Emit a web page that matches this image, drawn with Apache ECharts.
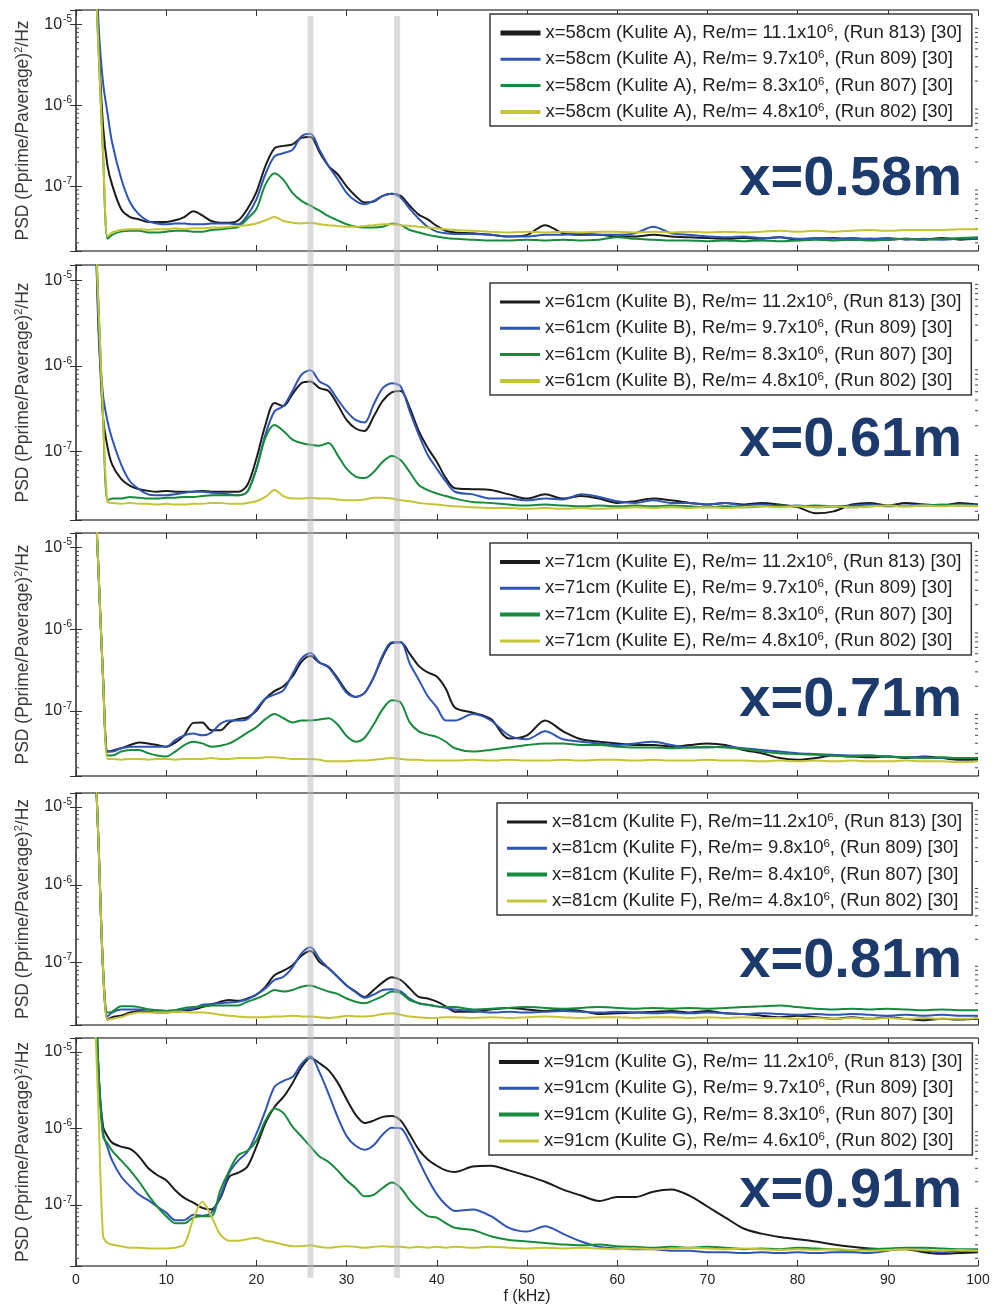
<!DOCTYPE html>
<html>
<head>
<meta charset="utf-8">
<script src="https://cdn.jsdelivr.net/npm/echarts@6/dist/echarts.min.js"></script>
<style>
  html, body { margin: 0; padding: 0; background: #ffffff; }
  #chart { width: 995px; height: 1306px; }
</style>
</head>
<body>
<div id="chart"></div>
<script>
// Frequency grid (kHz) shared by every spectrum
const FREQ_KHZ = [2, 2.5, 3, 3.5, 4, 5, 6, 7, 8, 9, 10, 11, 12, 13, 14, 15, 16, 17, 18, 19, 20, 21, 22, 23, 24, 25, 26, 27, 28, 29, 30, 31, 32, 33, 34, 35, 36, 37, 38, 39, 40, 41, 42, 44, 46, 48, 50, 52, 54, 56, 58, 60, 62, 64, 66, 68, 70, 72, 74, 76, 78, 80, 82, 84, 86, 88, 90, 92, 94, 96, 98, 100];

// PSD values in units of 1e-8 (Pprime/Paverage)^2/Hz
// x = 0.58 m (Kulite A)
const PSD_58_RUN813 = [16000, 631, 55, 17.8, 10.5, 5.25, 4.17, 3.89, 3.63, 3.63, 3.63, 3.8, 4.17, 4.9, 4.37, 3.72, 3.55, 3.55, 3.8, 5.25, 8.5, 17.8, 29.5, 31.6, 33, 39.8, 40.7, 26.3, 17.8, 14.1, 10, 7.6, 6.3, 6.5, 7.6, 8.1, 7.6, 5.75, 4.47, 3.89, 3.24, 2.82, 2.69, 2.63, 2.51, 2.4, 2.51, 3.31, 2.63, 2.51, 2.51, 2.4, 2.4, 2.51, 2.4, 2.34, 2.29, 2.24, 2.29, 2.24, 2.34, 2.19, 2.24, 2.29, 2.19, 2.24, 2.19, 2.24, 2.19, 2.29, 2.19, 2.24];
const PSD_58_RUN809 = [31600, 1000, 190, 79, 35, 12.6, 6.3, 4.47, 3.72, 3.47, 3.39, 3.47, 3.47, 3.39, 3.39, 3.47, 3.47, 3.47, 3.39, 4.37, 6.9, 14.1, 23.4, 25.7, 28.2, 41.7, 44.7, 28.2, 17.8, 12.3, 8.3, 6.6, 6.0, 6.6, 7.6, 8.1, 7.2, 5.25, 3.98, 3.16, 2.75, 2.63, 2.57, 2.57, 2.51, 2.4, 2.4, 2.51, 2.51, 2.63, 2.51, 2.51, 2.63, 3.16, 2.63, 2.51, 2.4, 2.34, 2.4, 2.29, 2.34, 2.24, 2.29, 2.24, 2.29, 2.24, 2.29, 2.19, 2.24, 2.19, 2.24, 2.24];
const PSD_58_RUN807 = [10000, 500, 25, 2.24, 2.51, 2.75, 2.82, 2.82, 2.69, 2.69, 2.75, 2.82, 2.82, 2.75, 2.75, 2.88, 2.95, 3.02, 3.16, 3.98, 5.25, 10.5, 14.5, 12, 8.3, 6.6, 5.75, 5.0, 4.27, 3.8, 3.39, 3.16, 3.09, 3.09, 3.16, 3.47, 3.31, 2.88, 2.69, 2.51, 2.4, 2.29, 2.24, 2.19, 2.14, 2.14, 2.19, 2.14, 2.19, 2.14, 2.19, 2.34, 2.24, 2.19, 2.14, 2.14, 2.09, 2.14, 2.09, 2.14, 2.09, 2.14, 2.19, 2.14, 2.19, 2.14, 2.19, 2.24, 2.19, 2.24, 2.29, 2.34];
const PSD_58_RUN802 = [10000, 480, 26, 2.4, 2.69, 2.88, 2.95, 2.95, 2.88, 2.95, 2.95, 3.02, 2.95, 3.02, 3.02, 3.09, 3.09, 3.16, 3.24, 3.31, 3.47, 3.8, 4.17, 3.72, 3.55, 3.47, 3.55, 3.39, 3.31, 3.24, 3.16, 3.16, 3.24, 3.31, 3.39, 3.39, 3.31, 3.24, 3.16, 3.09, 3.02, 2.95, 2.88, 2.82, 2.75, 2.69, 2.75, 2.69, 2.75, 2.69, 2.75, 2.75, 2.69, 2.75, 2.69, 2.75, 2.69, 2.75, 2.69, 2.75, 2.82, 2.75, 2.82, 2.75, 2.82, 2.88, 2.82, 2.88, 2.88, 2.88, 2.95, 2.95];

// x = 0.61 m (Kulite B)
const PSD_61_RUN813 = [16000, 316, 25, 11.2, 7.1, 4.8, 3.98, 3.63, 3.47, 3.39, 3.47, 3.39, 3.39, 3.39, 3.47, 3.39, 3.39, 3.39, 3.39, 4.07, 8.3, 20.4, 37, 34, 47, 63, 66, 55, 51, 35.5, 23.4, 18.6, 17.4, 25.7, 39, 49, 51, 32.4, 17.4, 11, 7.6, 4.9, 3.72, 3.63, 3.55, 3.16, 2.82, 3.16, 2.82, 3.02, 2.82, 2.51, 2.63, 2.82, 2.69, 2.51, 2.4, 2.51, 2.4, 2.51, 2.4, 2.24, 1.9, 2.0, 2.4, 2.51, 2.34, 2.51, 2.4, 2.34, 2.51, 2.4];
const PSD_61_RUN809 = [31600, 250, 45, 22.4, 14.1, 7.1, 4.47, 3.63, 3.16, 3.09, 3.09, 3.16, 3.31, 3.39, 3.39, 3.31, 3.24, 3.16, 3.09, 3.39, 6.3, 15.8, 29.5, 34, 51, 79, 89, 66, 57.5, 40.7, 29.5, 23.4, 21.9, 35.5, 55, 63, 57.5, 29.5, 15.8, 9.1, 6.3, 4.47, 3.39, 3.16, 2.82, 2.82, 2.69, 2.82, 2.75, 3.16, 2.95, 2.63, 2.51, 2.69, 2.51, 2.51, 2.4, 2.51, 2.34, 2.4, 2.29, 2.34, 2.24, 2.29, 2.34, 2.4, 2.29, 2.34, 2.4, 2.34, 2.4, 2.34];
const PSD_61_RUN807 = [10000, 500, 25, 2.69, 2.82, 2.82, 2.95, 2.88, 2.82, 2.82, 2.88, 2.88, 2.95, 2.95, 3.02, 3.09, 3.09, 3.09, 3.09, 3.39, 6.3, 14.5, 20.4, 17.4, 13.8, 12.6, 12, 11.7, 12.6, 9.1, 6.3, 5.1, 4.9, 5.75, 7.6, 8.9, 7.9, 5.75, 4.07, 3.55, 3.24, 3.02, 2.82, 2.57, 2.51, 2.4, 2.34, 2.4, 2.34, 2.29, 2.34, 2.29, 2.34, 2.29, 2.34, 2.29, 2.24, 2.29, 2.24, 2.29, 2.34, 2.29, 2.34, 2.29, 2.24, 2.29, 2.34, 2.29, 2.34, 2.4, 2.34, 2.34];
const PSD_61_RUN802 = [10000, 480, 26, 2.57, 2.51, 2.45, 2.51, 2.45, 2.45, 2.4, 2.45, 2.4, 2.4, 2.45, 2.45, 2.51, 2.51, 2.45, 2.45, 2.51, 2.63, 2.95, 3.55, 3.02, 2.82, 2.82, 2.88, 2.82, 2.82, 2.75, 2.69, 2.69, 2.75, 2.88, 2.88, 2.82, 2.69, 2.63, 2.51, 2.45, 2.4, 2.34, 2.29, 2.24, 2.19, 2.19, 2.14, 2.19, 2.14, 2.19, 2.14, 2.19, 2.24, 2.19, 2.24, 2.19, 2.24, 2.19, 2.24, 2.29, 2.24, 2.29, 2.24, 2.29, 2.24, 2.29, 2.34, 2.29, 2.34, 2.29, 2.34, 2.29];

// x = 0.71 m (Kulite E)
const PSD_71_RUN813 = [10000, 500, 25, 3.16, 3.24, 3.47, 3.8, 4.07, 3.98, 3.8, 3.63, 4.07, 5.0, 7.1, 7.2, 5.75, 5.75, 7.2, 7.9, 8.3, 10, 14.1, 17.4, 20, 26.3, 39.8, 46.8, 39, 34.7, 25.1, 17.4, 14.8, 16.6, 25.7, 45.7, 67.6, 69, 50, 35.5, 29.5, 26.3, 18.6, 11, 9.5, 7.9, 4.57, 5.0, 7.6, 5.6, 4.47, 4.17, 3.98, 3.8, 3.8, 3.63, 3.8, 3.98, 3.8, 3.31, 3.02, 2.63, 2.51, 2.63, 2.82, 2.75, 2.69, 2.75, 2.63, 2.75, 2.63, 2.51, 2.51];
const PSD_71_RUN809 = [10000, 500, 25, 3.16, 3.16, 3.47, 3.63, 3.63, 3.63, 3.63, 3.63, 4.37, 5.0, 5.25, 5.0, 5.4, 6.9, 7.6, 7.6, 7.9, 10.5, 14.1, 15.8, 17.8, 28.2, 43.7, 51, 39, 34, 24, 16.6, 14.8, 16.6, 25.7, 47.9, 69, 69, 38, 24, 15.1, 11, 7.6, 7.6, 9.1, 7.6, 5.0, 4.47, 5.6, 4.47, 4.17, 3.98, 3.8, 3.98, 4.17, 3.8, 3.55, 3.55, 3.63, 3.47, 3.31, 3.16, 3.02, 2.95, 2.88, 2.82, 2.82, 2.75, 2.69, 2.69, 2.63, 2.63, 2.63];
const PSD_71_RUN807 = [10000, 500, 25, 2.82, 2.82, 3.16, 3.31, 3.31, 3.02, 2.82, 2.75, 3.16, 3.8, 4.17, 3.98, 3.63, 3.72, 3.98, 4.57, 5.4, 6.3, 7.9, 9.1, 8.1, 7.2, 7.6, 7.6, 7.8, 8.1, 6.8, 4.9, 4.17, 4.68, 6.8, 10.5, 13.5, 12.6, 7.2, 5.6, 5.1, 4.79, 4.17, 3.47, 3.16, 3.31, 3.55, 3.8, 3.98, 3.98, 3.8, 3.8, 3.63, 3.55, 3.55, 3.47, 3.55, 3.63, 3.55, 3.39, 3.16, 3.02, 2.95, 2.88, 2.82, 2.75, 2.82, 2.75, 2.69, 2.63, 2.69, 2.63, 2.63];
const PSD_71_RUN802 = [10000, 500, 25, 2.57, 2.57, 2.51, 2.57, 2.57, 2.51, 2.57, 2.57, 2.51, 2.57, 2.57, 2.57, 2.63, 2.57, 2.57, 2.63, 2.63, 2.63, 2.69, 2.69, 2.63, 2.57, 2.57, 2.57, 2.51, 2.4, 2.4, 2.4, 2.45, 2.45, 2.51, 2.57, 2.63, 2.57, 2.51, 2.51, 2.45, 2.45, 2.45, 2.45, 2.51, 2.45, 2.51, 2.45, 2.45, 2.51, 2.45, 2.51, 2.51, 2.45, 2.51, 2.45, 2.45, 2.51, 2.45, 2.45, 2.4, 2.45, 2.4, 2.45, 2.4, 2.45, 2.4, 2.4, 2.45, 2.4, 2.4, 2.34, 2.4];

// x = 0.81 m (Kulite F)
const PSD_81_RUN813 = [10000, 340, 8.3, 1.86, 2.0, 2.09, 2.29, 2.4, 2.34, 2.29, 2.29, 2.34, 2.4, 2.51, 2.69, 2.88, 3.16, 3.31, 3.24, 3.47, 3.89, 4.9, 6.9, 7.9, 9.3, 12.3, 14.1, 10.2, 8.5, 6.6, 5.1, 4.27, 3.63, 4.47, 5.6, 6.5, 6.0, 4.68, 3.63, 3.47, 3.16, 2.75, 2.34, 2.34, 2.51, 2.63, 2.51, 2.4, 2.51, 2.4, 2.19, 2.24, 2.29, 2.34, 2.4, 2.29, 2.4, 2.24, 2.19, 2.09, 2.0, 2.09, 2.0, 1.9, 2.0, 1.9, 2.0, 1.9, 1.82, 1.9, 1.86, 1.9];
const PSD_81_RUN809 = [10000, 340, 8.3, 2.04, 2.29, 2.51, 2.51, 2.51, 2.51, 2.45, 2.4, 2.45, 2.51, 2.57, 2.88, 2.95, 3.02, 3.09, 3.16, 3.39, 3.89, 4.68, 6.0, 6.6, 8.7, 13.2, 15.8, 11.2, 8.5, 6.6, 5.1, 4.17, 3.55, 3.89, 4.47, 4.57, 4.27, 3.47, 3.02, 2.88, 2.75, 2.63, 2.51, 2.4, 2.29, 2.34, 2.29, 2.34, 2.4, 2.34, 2.29, 2.34, 2.29, 2.24, 2.29, 2.24, 2.29, 2.24, 2.19, 2.24, 2.19, 2.14, 2.19, 2.14, 2.19, 2.14, 2.09, 2.14, 2.09, 2.14, 2.09, 2.09];
const PSD_81_RUN807 = [10000, 340, 8.3, 2.29, 2.34, 2.75, 2.75, 2.69, 2.51, 2.45, 2.4, 2.45, 2.63, 2.69, 2.75, 2.82, 2.82, 2.82, 2.82, 3.16, 3.47, 3.89, 4.47, 4.27, 4.47, 4.9, 5.1, 4.68, 4.27, 3.98, 3.47, 3.16, 3.02, 3.31, 3.72, 4.27, 4.07, 3.31, 3.02, 2.88, 2.75, 2.69, 2.69, 2.51, 2.57, 2.63, 2.69, 2.63, 2.57, 2.63, 2.69, 2.63, 2.57, 2.63, 2.57, 2.63, 2.57, 2.63, 2.69, 2.75, 2.82, 2.69, 2.57, 2.51, 2.57, 2.51, 2.57, 2.51, 2.45, 2.51, 2.45, 2.45];
const PSD_81_RUN802 = [10000, 340, 8.3, 1.86, 1.9, 2.0, 2.19, 2.29, 2.29, 2.29, 2.29, 2.34, 2.34, 2.29, 2.29, 2.24, 2.14, 2.09, 2.04, 2.0, 2.0, 2.0, 2.04, 2.04, 2.09, 2.04, 2.04, 2.0, 1.95, 2.0, 2.09, 2.04, 2.04, 2.09, 2.19, 2.24, 2.14, 2.04, 2.0, 1.95, 1.95, 2.0, 2.0, 1.95, 2.0, 1.95, 2.0, 2.04, 2.0, 1.95, 2.0, 2.0, 1.95, 2.0, 2.0, 1.95, 2.0, 1.95, 2.0, 1.95, 1.95, 1.9, 1.95, 1.9, 1.95, 1.9, 1.95, 1.9, 1.95, 1.9, 1.9, 1.95];

// x = 0.91 m (Kulite G)
const PSD_91_RUN813 = [31600, 550, 105, 78, 65, 57.5, 53.7, 42.7, 30.2, 24.5, 20.9, 15.5, 12.3, 10.7, 9.1, 8.7, 12.3, 23.4, 26.3, 31.6, 57.5, 117, 190, 257, 389, 631, 832, 708, 575, 398, 240, 151, 117, 126, 141, 145, 126, 83, 52.5, 39, 32.4, 28.2, 26.9, 31.6, 32.4, 28.2, 24, 20, 15.8, 13.2, 11.2, 12.6, 12.6, 14.8, 15.8, 13.2, 9.5, 6.8, 4.9, 4.2, 3.8, 3.55, 3.31, 3.02, 2.82, 2.69, 2.63, 2.63, 2.4, 2.29, 2.34, 2.4];
const PSD_91_RUN809 = [31600, 550, 87, 56, 38, 23.4, 17.4, 13.5, 11.5, 9.5, 7.9, 6.3, 6.3, 7.4, 7.2, 7.9, 12.9, 26.3, 38, 49, 85, 170, 347, 417, 468, 692, 871, 537, 282, 141, 79, 59, 52.5, 60, 83, 102, 100, 66, 38, 21.9, 13.8, 10, 8.3, 8.7, 7.1, 5.0, 4.47, 5.25, 4.17, 3.31, 2.82, 2.69, 2.63, 2.63, 2.51, 2.51, 2.4, 2.4, 2.34, 2.4, 2.34, 2.4, 2.34, 2.4, 2.4, 2.34, 2.51, 2.69, 2.51, 2.4, 2.51, 2.51];
const PSD_91_RUN807 = [31600, 550, 78, 63, 51, 38, 28.2, 20, 13.5, 9.5, 7.1, 5.75, 5.75, 6.8, 7.1, 7.1, 15.5, 28.2, 44.7, 51, 69, 126, 182, 158, 105, 78, 57.5, 42.7, 36.3, 28.2, 20.9, 16.6, 12.9, 13.5, 16.6, 19.5, 16.6, 11.5, 8.7, 7.1, 6.8, 5.75, 5.0, 4.68, 3.89, 3.47, 3.31, 3.16, 3.02, 2.95, 3.02, 2.88, 2.82, 2.75, 2.82, 2.75, 2.82, 2.75, 2.63, 2.69, 2.63, 2.75, 2.69, 2.63, 2.51, 2.63, 2.69, 2.75, 2.75, 2.69, 2.63, 2.63];
const PSD_91_RUN802 = [6300, 158, 3.89, 3.16, 3.02, 2.88, 2.75, 2.75, 2.69, 2.69, 2.69, 2.75, 3.02, 6.5, 11, 7.1, 4.07, 3.39, 3.39, 3.55, 3.72, 3.39, 3.24, 3.02, 2.88, 2.88, 2.95, 2.82, 2.75, 2.82, 2.88, 2.82, 2.75, 2.82, 2.88, 2.82, 2.82, 2.75, 2.82, 2.75, 2.82, 2.75, 2.82, 2.75, 2.82, 2.75, 2.69, 2.75, 2.69, 2.75, 2.69, 2.63, 2.69, 2.63, 2.69, 2.75, 2.69, 2.63, 2.69, 2.63, 2.57, 2.63, 2.57, 2.63, 2.57, 2.51, 2.57, 2.63, 2.57, 2.51, 2.57, 2.51];

// Legend entries per sensor (^ marks the superscript exponent)
const LEGEND_58 = ['x=58cm (Kulite A), Re/m= 11.1x10^6, (Run 813) [30]', 'x=58cm (Kulite A), Re/m= 9.7x10^6, (Run 809) [30]', 'x=58cm (Kulite A), Re/m= 8.3x10^6, (Run 807) [30]', 'x=58cm (Kulite A), Re/m= 4.8x10^6, (Run 802) [30]'];
const LEGEND_61 = ['x=61cm (Kulite B), Re/m= 11.2x10^6, (Run 813) [30]', 'x=61cm (Kulite B), Re/m= 9.7x10^6, (Run 809) [30]', 'x=61cm (Kulite B), Re/m= 8.3x10^6, (Run 807) [30]', 'x=61cm (Kulite B), Re/m= 4.8x10^6, (Run 802) [30]'];
const LEGEND_71 = ['x=71cm (Kulite E), Re/m= 11.2x10^6, (Run 813) [30]', 'x=71cm (Kulite E), Re/m= 9.7x10^6, (Run 809) [30]', 'x=71cm (Kulite E), Re/m= 8.3x10^6, (Run 807) [30]', 'x=71cm (Kulite E), Re/m= 4.8x10^6, (Run 802) [30]'];
const LEGEND_81 = ['x=81cm (Kulite F), Re/m=11.2x10^6, (Run 813) [30]', 'x=81cm (Kulite F), Re/m= 9.8x10^6, (Run 809) [30]', 'x=81cm (Kulite F), Re/m= 8.4x10^6, (Run 807) [30]', 'x=81cm (Kulite F), Re/m= 4.8x10^6, (Run 802) [30]'];
const LEGEND_91 = ['x=91cm (Kulite G), Re/m= 11.2x10^6, (Run 813) [30]', 'x=91cm (Kulite G), Re/m= 9.7x10^6, (Run 809) [30]', 'x=91cm (Kulite G), Re/m= 8.3x10^6, (Run 807) [30]', 'x=91cm (Kulite G), Re/m= 4.6x10^6, (Run 802) [30]'];

const STATION_TAGS = ['x=0.58m', 'x=0.61m', 'x=0.71m', 'x=0.81m', 'x=0.91m'];
const X_TICKS = [0, 10, 20, 30, 40, 50, 60, 70, 80, 90, 100];
const MARKED_FREQ_KHZ = [26, 35.6];

const SERIES_BY_STATION = [
  [PSD_58_RUN813, PSD_58_RUN809, PSD_58_RUN807, PSD_58_RUN802],
  [PSD_61_RUN813, PSD_61_RUN809, PSD_61_RUN807, PSD_61_RUN802],
  [PSD_71_RUN813, PSD_71_RUN809, PSD_71_RUN807, PSD_71_RUN802],
  [PSD_81_RUN813, PSD_81_RUN809, PSD_81_RUN807, PSD_81_RUN802],
  [PSD_91_RUN813, PSD_91_RUN809, PSD_91_RUN807, PSD_91_RUN802]
];
const LEGENDS = [LEGEND_58, LEGEND_61, LEGEND_71, LEGEND_81, LEGEND_91];

// ---- styling / layout ----
const RUN_COLORS = ['#1b1b1b', '#2f55b4', '#178a3c', '#c3c436'];
const FONT = 'Liberation Sans, Arial, Helvetica, sans-serif';
const Y_MIN = 1.585e-8, Y_MAX = 1.514e-5;
const PANEL_LAYOUT = [
  { top: 10,   height: 241, legendLeft: 490, legendTop: 14,   tagY: 180,  iconW: [5, 3, 3, 4] },
  { top: 265,  height: 255, legendLeft: 490, legendTop: 283,  tagY: 441,  iconW: [3, 3, 3, 4] },
  { top: 533,  height: 243, legendLeft: 490, legendTop: 543,  tagY: 701,  iconW: [4, 3, 4, 3] },
  { top: 793,  height: 232, legendLeft: 497, legendTop: 803,  tagY: 962,  iconW: [3, 3, 4, 3] },
  { top: 1038, height: 230, legendLeft: 489, legendTop: 1043, tagY: 1192, iconW: [4, 3, 4, 3] }
];
const AXIS_COLOR = '#555';
const TEXT_COLOR = '#222';

// minor log ticks 2..9 per decade inside the axis range
const MINOR_TICKS = [];
for (let d = -8; d <= -5; d++) {
  for (let m = 2; m <= 9; m++) {
    const v = m * Math.pow(10, d);
    if (v > Y_MIN && v < Y_MAX) MINOR_TICKS.push(v);
  }
}

function expLabel(v) {
  const e = Math.log10(v);
  const r = Math.round(e);
  if (Math.abs(e - r) > 1e-6) return '';
  return '{b|10}{e|' + r + '}';
}
function legendLabel(name) {
  return '{t|' + name.replace(/\^(\d+)/, '}{s|$1}{t|') + '}';
}

const chart = echarts.init(document.getElementById('chart'), null, { renderer: 'canvas' });

const grid = [], xAxis = [], yAxis = [], series = [], legend = [], graphic = [];

PANEL_LAYOUT.forEach((L, p) => {
  const isLast = p === PANEL_LAYOUT.length - 1;
  grid.push({ left: 76, right: 17, top: L.top, height: L.height, containLabel: false });

  const tickStyle = { show: true, inside: true, length: 6, lineStyle: { color: '#333', width: 1 } };
  // bottom x axis
  xAxis.push({
    type: 'value', gridIndex: p, min: 0, max: 100, interval: 10, position: 'bottom',
    axisLine: { show: true, onZero: false, lineStyle: { color: AXIS_COLOR, width: 1.5 } },
    axisTick: tickStyle,
    axisLabel: {
      show: isLast, fontFamily: FONT, fontSize: 14, color: TEXT_COLOR, margin: 7,
      formatter: v => (X_TICKS.indexOf(v) >= 0 ? String(v) : '')
    },
    splitLine: { show: false },
    name: isLast ? 'f (kHz)' : '', nameLocation: 'middle', nameGap: 23,
    nameTextStyle: { fontFamily: FONT, fontSize: 16, color: TEXT_COLOR }
  });
  // top x axis (box edge)
  xAxis.push({
    type: 'value', gridIndex: p, min: 0, max: 100, interval: 10, position: 'top',
    axisLine: { show: true, onZero: false, lineStyle: { color: AXIS_COLOR, width: 1.5 } },
    axisTick: tickStyle, axisLabel: { show: false }, splitLine: { show: false }
  });
  // left log axis
  yAxis.push({
    type: 'log', logBase: 10, gridIndex: p, min: Y_MIN, max: Y_MAX, position: 'left',
    axisLine: { show: true, lineStyle: { color: AXIS_COLOR, width: 1.5 } },
    axisTick: { show: true, inside: true, length: 6, lineStyle: { color: '#333' } },
    axisLabel: {
      fontFamily: FONT, margin: 4, formatter: expLabel,
      rich: {
        b: { fontFamily: FONT, fontSize: 16, color: TEXT_COLOR },
        e: { fontFamily: FONT, fontSize: 10, color: TEXT_COLOR, padding: [0, 0, 10, 1] }
      }
    },
    splitLine: { show: false },
    name: 'PSD (Pprime/Paverage){s|2}/Hz', nameLocation: 'middle', nameGap: 42, nameRotate: 90,
    nameTextStyle: {
      fontFamily: FONT, fontSize: 17.5, color: '#383838',
      rich: { s: { fontFamily: FONT, fontSize: 11, color: '#383838', padding: [0, 0, 10, 0] } }
    }
  });
  // right log axis (box edge)
  yAxis.push({
    type: 'log', logBase: 10, gridIndex: p, min: Y_MIN, max: Y_MAX, position: 'right',
    axisLine: { show: true, lineStyle: { color: AXIS_COLOR, width: 1.5 } },
    axisTick: { show: true, inside: true, length: 6, lineStyle: { color: '#333' } },
    axisLabel: { show: false }, splitLine: { show: false }
  });

  const names = LEGENDS[p];
  SERIES_BY_STATION[p].forEach((vals, k) => {
    series.push({
      type: 'line', name: names[k], xAxisIndex: 2 * p, yAxisIndex: 2 * p,
      data: FREQ_KHZ.map((f, j) => [f, vals[j] * 1e-8]),
      symbol: 'none', smooth: 0.3, clip: true,
      lineStyle: { color: RUN_COLORS[k], width: 2 },
      itemStyle: { color: RUN_COLORS[k] },
      z: 3 + k, silent: true, animation: false
    });
  });

  // minor log ticks on both vertical edges
  series.push({
    type: 'custom', xAxisIndex: 2 * p, yAxisIndex: 2 * p, silent: true, animation: false,
    data: MINOR_TICKS.map(v => [0, v]),
    renderItem: (params, api) => {
      const v = api.value(1);
      const a = api.coord([0, v]);
      const b = api.coord([100, v]);
      const st = { stroke: '#444', lineWidth: 1 };
      return {
        type: 'group', children: [
          { type: 'line', shape: { x1: a[0], y1: a[1], x2: a[0] + 3, y2: a[1] }, style: st },
          { type: 'line', shape: { x1: b[0] - 3, y1: b[1], x2: b[0], y2: b[1] }, style: st }
        ]
      };
    }
  });

  legend.push({
    orient: 'vertical', left: L.legendLeft, top: L.legendTop,
    data: names.map((n, k) => ({
      name: n,
      lineStyle: { width: L.iconW[k] },
      itemStyle: { color: 'rgba(0,0,0,0)', borderWidth: 0, opacity: 0 }
    })),
    itemWidth: 40, itemHeight: 14, itemGap: 6.3,
    padding: [9, 10, 4, 8],
    backgroundColor: '#ffffff', borderColor: '#3a3a3a', borderWidth: 1.5, borderRadius: 0,
    selectedMode: false,
    formatter: legendLabel,
    textStyle: {
      fontFamily: FONT, fontSize: 18.5, color: TEXT_COLOR,
      rich: {
        t: { fontFamily: FONT, fontSize: 18.5, color: TEXT_COLOR, lineHeight: 18 },
        s: { fontFamily: FONT, fontSize: 11.5, color: TEXT_COLOR, lineHeight: 10, padding: [0, 0, 8, 0] }
      }
    }
  });

  graphic.push({
    type: 'text', z: 50,
    style: {
      text: STATION_TAGS[p], x: 962, y: L.tagY,
      textAlign: 'right', textVerticalAlign: 'middle', verticalAlign: 'middle',
      font: 'bold 56px ' + FONT, fill: '#1d3a6c'
    }
  });
});

chart.setOption({
  backgroundColor: '#ffffff',
  animation: false,
  grid, xAxis, yAxis, series, legend, graphic
});

// translucent reference bands at the marked frequencies, spanning all panels
const lastPanel = PANEL_LAYOUT[PANEL_LAYOUT.length - 1];
const bandTop = PANEL_LAYOUT[0].top + 6;
const bandBottom = lastPanel.top + lastPanel.height + 10;
const bands = MARKED_FREQ_KHZ.map(f => {
  const x = chart.convertToPixel({ xAxisIndex: 0 }, f);
  return {
    type: 'rect', z: 40, silent: true,
    shape: { x: x - 3, y: bandTop, width: 6, height: bandBottom - bandTop },
    style: { fill: 'rgba(185,185,192,0.5)' }
  };
});
chart.setOption({ graphic: graphic.concat(bands) });
</script>
</body>
</html>
